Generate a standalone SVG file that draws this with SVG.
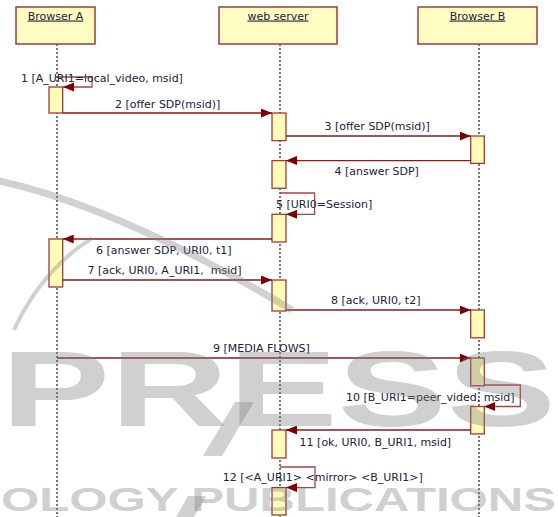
<svg xmlns="http://www.w3.org/2000/svg" width="558" height="517" viewBox="0 0 558 517">
<defs>
<style>
.hdr{fill:#fffdc2;stroke:#a33a3a;stroke-width:1.5}
.act{fill:#fffdb8;stroke:#a33a3a;stroke-width:1.3}
.life{stroke:#555;stroke-width:1.6;stroke-dasharray:2,2;fill:none}
.msg{stroke:#8b1a1a;stroke-width:1.3;fill:none}
.loop{stroke:#a84444;stroke-width:1.3;fill:none}
.lbl{font-family:"DejaVu Sans",Verdana,sans-serif;font-size:11px;fill:#22223a}
.ttl{font-family:"DejaVu Sans",Verdana,sans-serif;font-size:11px;fill:#22223a;text-decoration:underline;text-anchor:middle}
.wm{fill:#808080;opacity:0.36}
.wmtext{font-family:"Liberation Sans",Arial,sans-serif;font-weight:bold;fill:#808080;opacity:0.36}
</style>
<marker id="ah" markerWidth="11" markerHeight="9" refX="11" refY="4.5" orient="auto" markerUnits="userSpaceOnUse">
<path d="M0,0 L11,4.5 L0,9 Z" fill="#800000"/>
</marker>
</defs>
<rect width="558" height="517" fill="#ffffff"/>

<g id="lifelines">
<line class="life" x1="57" y1="44" x2="57" y2="517"/>
<line class="life" x1="280" y1="44" x2="280" y2="517"/>
<line class="life" x1="479" y1="44" x2="479" y2="517"/>
</g>

<g id="browserA">
<rect class="hdr" x="16" y="7" width="79" height="37"/>
<text class="ttl" x="55.5" y="19.5">Browser A</text>
<rect class="act" x="49" y="87" width="13.7" height="26"/>
<rect class="act" x="49" y="239" width="13.7" height="48"/>
</g>

<g id="webserver">
<rect class="hdr" x="219" y="7" width="118" height="37"/>
<text class="ttl" x="278" y="19.5">web server</text>
<rect class="act" x="272" y="113" width="14" height="27.6"/>
<rect class="act" x="272" y="160.6" width="14" height="27.7"/>
<rect class="act" x="272" y="214.3" width="14" height="27.7"/>
<rect class="act" x="272" y="280" width="14" height="31"/>
<rect class="act" x="272" y="430" width="14" height="28"/>
<rect class="act" x="272" y="487.6" width="14" height="27.4"/>
</g>

<g id="browserB">
<rect class="hdr" x="418" y="7" width="119" height="37"/>
<text class="ttl" x="477.5" y="19.5">Browser B</text>
<rect class="act" x="470.7" y="136" width="13.6" height="27.4"/>
<rect class="act" x="470.7" y="310" width="13.6" height="27.8"/>
<rect class="act" x="470.7" y="358" width="13.6" height="27.8"/>
<rect class="act" x="470.7" y="406.5" width="13.6" height="27.4"/>
</g>

<g id="connectors">
<path class="loop" d="M57,77 H92 V87 H63" marker-end="url(#ah)"/>
<line class="msg" x1="62.7" y1="113" x2="272" y2="113" marker-end="url(#ah)"/>
<line class="msg" x1="286" y1="136" x2="470.7" y2="136" marker-end="url(#ah)"/>
<line class="msg" x1="470.7" y1="160.6" x2="286" y2="160.6" marker-end="url(#ah)"/>
<path class="loop" d="M280,193 H314.6 V214.3 H286" marker-end="url(#ah)"/>
<line class="msg" x1="272" y1="239" x2="62.7" y2="239" marker-end="url(#ah)"/>
<line class="msg" x1="62.7" y1="280" x2="272" y2="280" marker-end="url(#ah)"/>
<line class="msg" x1="286" y1="310" x2="470.7" y2="310" marker-end="url(#ah)"/>
<line class="msg" x1="57" y1="358" x2="470.7" y2="358" marker-end="url(#ah)"/>
<path class="loop" d="M484.3,385 H520.3 V406.5 H484.3" marker-end="url(#ah)"/>
<line class="msg" x1="470.7" y1="430" x2="286" y2="430" marker-end="url(#ah)"/>
<path class="loop" d="M280,467 H315 V487.6 H286" marker-end="url(#ah)"/>
</g>

<g id="labels">
<text class="lbl" x="21" y="82">1 [A_URI1=local_video, msid]</text>
<text class="lbl" x="115" y="108">2 [offer SDP(msid)]</text>
<text class="lbl" x="324.5" y="130">3 [offer SDP(msid)]</text>
<text class="lbl" x="334.5" y="175">4 [answer SDP]</text>
<text class="lbl" x="276" y="208">5 [URI0=Session]</text>
<text class="lbl" x="96" y="253.5">6 [answer SDP, URI0, t1]</text>
<text class="lbl" x="87.5" y="274" xml:space="preserve">7 [ack, URI0, A_URI1,  msid]</text>
<text class="lbl" x="331" y="304">8 [ack, URI0, t2]</text>
<text class="lbl" x="213" y="352">9 [MEDIA FLOWS]</text>
<text class="lbl" x="346" y="400.5">10 [B_URI1=peer_vided, msid]</text>
<text class="lbl" x="299.6" y="445.6">11 [ok, URI0, B_URI1, msid]</text>
<text class="lbl" x="222.8" y="481">12 [&lt;A_URI1&gt; &lt;mirror&gt; &lt;B_URI1&gt;]</text>
</g>

<g id="watermark">
<path d="M-5,180 C90,200 200,255 292,310" stroke="#808080" stroke-width="7" fill="none" opacity="0.36"/>
<path d="M14,330 C30,295 55,262 92,238" stroke="#808080" stroke-width="4" fill="none" opacity="0.36"/>
<polygon class="wm" points="203,456 222,456 254,402 235,402"/>
<polygon class="wm" points="176,517 194,517 206,496 188,496"/>
<text class="wmtext" x="1" y="426" font-size="108" textLength="555" lengthAdjust="spacingAndGlyphs">PRESS</text>
<text class="wmtext" x="1" y="511" font-size="34" textLength="555" lengthAdjust="spacingAndGlyphs">OLOGY PUBLICATIONS</text>
</g>
</svg>
